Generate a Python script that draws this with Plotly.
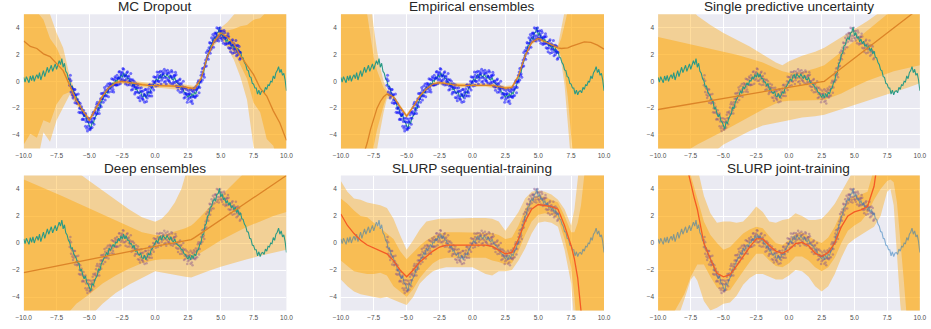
import numpy as np
import plotly.graph_objects as go

# ---------------- ground-truth curve (noisy) ----------------
true_x = np.round(np.arange(-100, 101) / 10, 1)
true_y = [
    0.3, -0.05, 0.35, 0.15, -0.1, 0.4, 0.05, 0.45, 0.0, 0.3,
    0.5, 0.2, 0.65, 0.1, 0.55, 0.8, 0.35, 0.7, 1.05, 0.65,
    0.95, 1.2, 0.75, 1.1, 1.3, 0.9, 1.15, 1.55, 1.25, 1.7,
    1.05, 1.35, 0.75, 0.6, 0.2, 0.05, -0.4, -0.35, -0.8, -0.95,
    -1.15, -1.45, -1.5, -2.05, -1.95, -2.4, -2.65, -2.45, -2.95, -3.05,
    -3.3, -3.55, -3.0, -3.15, -2.75, -2.6, -2.4, -1.9, -2.05, -1.55,
    -1.3, -1.15, -1.0, -0.7, -0.9, -0.4, -0.55, -0.25, -0.1, -0.3,
    0.1, 0.0, 0.35, 0.15, 0.5, 0.3, 0.65, 0.3, 0.55, 0.2,
    0.2, -0.05, -0.05, -0.35, -0.15, -0.6, -0.55, -0.8, -0.9, -0.75,
    -1.1, -1.15, -0.9, -1.25, -1.05, -0.8, -0.9, -0.5, -0.4, -0.15,
    0.0, 0.2, 0.0, 0.4, 0.5, 0.2, 0.55, 0.4, 0.3, 0.55,
    0.3, 0.2, 0.45, 0.15, 0.1, 0.3, -0.05, -0.1, -0.2, -0.3,
    -0.5, -0.5, -0.8, -0.85, -1.0, -1.2, -0.95, -1.25, -0.9, -1.15,
    -0.8, -0.95, -0.55, -0.5, -0.1, 0.05, 0.6, 0.65, 1.3, 1.45,
    2.0, 2.1, 2.65, 2.7, 3.1, 3.25, 3.1, 3.6, 3.65, 4.05,
    3.4, 3.65, 3.2, 3.35, 2.95, 3.15, 2.8, 3.0, 2.6, 2.75,
    2.45, 2.65, 2.25, 2.5, 2.05, 2.25, 1.8, 1.75, 1.4, 1.25,
    0.85, 0.8, 0.35, 0.3, -0.15, -0.2, -0.5, -0.5, -0.95, -0.65,
    -1.0, -0.75, -0.7, -0.85, -0.45, -0.6, -0.25, -0.3, 0.0, -0.05,
    0.4, 0.2, 0.65, 0.8, 1.1, 0.65, 0.9, 0.45, 0.6, 0.1,
    -0.7,
]

# ---------------- training samples ----------------
obs_x = np.round(np.arange(-65, 66) / 10, 1)
obs_x_c = np.round(np.arange(-645, 655, 10) / 100, 2)
obs_y_a = [
    0.2, -0.8, -0.55, -1.1, -0.6, -1.4, -1.35, -2.3, -1.65, -2.3,
    -2.8, -2.55, -3.35, -2.75, -3.35, -3.05, -3.5, -2.95, -2.3, -2.75,
    -1.95, -2.4, -1.7, -1.8, -0.9, -1.3, -0.85, -1.4, -0.35, -0.6,
    -0.8, -0.25, -0.75, 0.15, -0.25, 0.25, -0.25, 0.25, 0.73, 0.1,
    0.7, 0.05, 0.5, 0.15, 0.72, 0.0, 0.18, -0.65, 0.12, -0.4,
    -0.82, -0.5, -1.2, -0.5, -1.07, -0.75, -1.4, -1.05, -0.6, -1.25,
    -0.55, -1.1, -0.4, -0.5, 0.35, -0.1, 0.3, -0.3, 0.68, 0.35,
    0.08, 0.55, -0.05, 0.75, 0.23, 0.6, -0.03, 0.35, 0.7, -0.05,
    0.42, -0.35, 0.03, -0.4, 0.18, -0.55, -0.4, -1.25, -0.48, -1.0,
    -1.35, -0.95, -1.53, -0.7, -1.13, -0.65, -1.1, -0.55, 0.05, -0.45,
    0.45, 0.1, 1.0, 1.1, 2.15, 1.9, 2.5, 2.1, 3.25, 3.1,
    2.95, 3.55, 3.05, 3.95, 3.4, 3.75, 3.05, 3.35, 3.65, 2.85,
    3.3, 2.5, 2.9, 2.5, 3.1, 2.4, 2.65, 1.9, 2.7, 2.2,
    1.75,
]
obs_y_b = [
    -0.3, 0.05, -1.0, -0.85, -1.6, -1.0, -1.6, -1.55, -2.35, -1.9,
    -2.4, -2.85, -2.4, -3.5, -3.0, -3.55, -2.8, -3.45, -2.75, -2.35,
    -2.45, -1.55, -2.15, -1.55, -1.9, -0.9, -1.1, -0.65, -1.05, -0.2,
    -0.4, -0.55, 0.2, -0.6, 0.1, -0.25, 0.45, -0.25, 0.28, 0.5,
    0.2, 0.9, 0.05, 0.4, -0.28, 0.4, -0.07, 0.1, -0.58, 0.0,
    -0.42, -0.8, -0.25, -1.25, -0.72, -1.25, -0.7, -1.55, -1.05, -0.85,
    -1.05, -0.25, -0.85, -0.25, -0.65, 0.3, 0.05, 0.45, -0.02, 0.75,
    0.48, 0.25, 0.9, 0.0, 0.58, 0.1, 0.67, -0.15, 0.25, 0.35,
    -0.08, 0.5, -0.42, -0.15, -0.82, -0.15, -0.65, -0.5, -1.18, -0.6,
    -0.95, -1.25, -0.58, -1.45, -0.78, -1.15, -0.4, -1.05, -0.4, -0.05,
    -0.05, 0.95, 0.55, 1.35, 1.15, 2.3, 2.25, 2.85, 2.55, 3.5,
    3.35, 3.25, 4.0, 3.2, 3.75, 3.25, 3.75, 2.85, 3.2, 3.25,
    2.8, 3.35, 2.45, 2.75, 2.1, 2.8, 2.4, 2.65, 2.0, 2.6,
    2.15,
]
obs_y_c = [
    0.45, -0.45, -1.25, -0.6, -1.0, -1.65, -0.95, -2.0, -2.05, -2.85,
    -2.15, -2.5, -3.0, -3.7, -2.75, -3.6, -3.05, -2.5, -3.2, -2.25,
    -1.7, -2.05, -2.4, -1.3, -1.3, -1.55, -0.45, -1.1, -0.75, -1.15,
    -0.15, -0.2, -0.4, -0.8, 0.35, -0.3, 0.2, 0.7, -0.17, 0.6,
    0.95, 0.4, -0.2, 0.65, 0.32, -0.25, 0.58, -0.35, -0.28, -0.95,
    -0.17, -0.45, -0.85, -1.45, -0.47, -1.3, -0.95, -0.6, -1.5, -0.75,
    -0.3, -0.75, -1.1, 0.0, -0.05, -0.35, 0.7, 0.0, 0.28, -0.2,
    0.73, 0.6, 0.3, -0.2, 0.83, 0.05, 0.42, 0.8, -0.2, 0.45,
    0.67, 0.0, -0.67, 0.1, -0.22, -0.8, 0.0, -0.95, -0.88, -1.55,
    -0.7, -0.9, -1.18, -1.65, -0.53, -1.2, -0.65, -0.1, -0.85, 0.05,
    0.7, 0.45, 0.3, 1.6, 1.75, 1.65, 2.9, 2.4, 2.85, 2.55,
    3.6, 3.6, 3.4, 3.0, 4.0, 3.2, 3.5, 3.8, 2.75, 3.35,
    3.55, 2.85, 2.2, 3.0, 2.7, 2.15, 3.05, 2.2, 2.3, 1.65,
]

# ---------------- MC Dropout ----------------
mc_x = np.round(np.arange(-20, 21) / 2, 1)
mc_mean = [3.0, 2.6, 2.45, 2.05, 1.85, 1.3, 0.8, -0.3, -1.4, -2.2, -2.9, -2.0, -1.1, -0.45,
           -0.1, 0.0, -0.1, -0.2, -0.25, -0.3, -0.3, -0.3, -0.3, -0.35, -0.4, -0.5, -0.55,
           0.2, 1.9, 3.0, 3.6, 3.3, 2.8, 1.9, 1.2, 0.5, -0.5, -1.1, -2.2, -3.1, -4.4]
mc_dark_hi = [7, 6, 5.2, 4.6, 3.2, 2.5, 1.4, 0.0, -1.2, -2.1, -2.8, -1.9, -1.0, -0.35, 0.0,
              0.1, 0.0, -0.1, -0.15, -0.2, -0.2, -0.2, -0.2, -0.25, -0.3, -0.4, -0.45, 0.3,
              2.0, 3.15, 3.9, 3.8, 3.9, 4.1, 4.2, 4.6, 4.7, 5.2, 5.5, 6.0, 6.5]
mc_dark_lo = [-4.7, -3.9, -4.2, -2.9, -3.1, -1.7, -1.0, -0.8, -1.6, -2.3, -3.0, -2.1, -1.2,
              -0.55, -0.2, -0.1, -0.2, -0.3, -0.35, -0.4, -0.4, -0.4, -0.4, -0.45, -0.5, -0.6,
              -0.65, 0.1, 1.8, 2.85, 3.3, 2.8, 2.2, 1.2, 0.2, -1.6, -2.3, -4.3, -4.8, -6.5, -8]
mc_light_hi = [9, 8, 7, 6, 5.0, 3.6, 2.5, 0.4, -1.0, -2.0, -2.7, -1.8, -0.9, -0.25, 0.1, 0.2,
               0.1, 0.0, -0.05, -0.1, -0.1, -0.1, -0.1, -0.15, -0.2, -0.3, -0.35, 0.4, 2.1,
               3.3, 4.0, 4.4, 5.0, 5.6, 6.2, 6.8, 7.4, 8, 8.5, 9, 9.5]
mc_light_lo = [-7, -5.2, -6.2, -3.8, -4.5, -2.9, -2.0, -1.0, -1.75, -2.4, -3.1, -2.2, -1.3,
               -0.65, -0.3, -0.2, -0.3, -0.4, -0.45, -0.5, -0.5, -0.5, -0.5, -0.55, -0.6,
               -0.7, -0.75, 0.0, 1.7, 2.7, 3.2, 2.5, 1.6, 0.3, -1.4, -4.9, -6.0, -8, -9,
               -10, -11]

# ---------------- Empirical ensembles ----------------
ee_x = [-10, -9.5, -9, -8.5, -8, -7.75, -7.5, -7.25, -7, -6.75, -6.5, -6, -5.5, -5, -4.5,
        -4, -3.5, -3, -2.5, -2, -1.5, -1, -0.5, 0, 0.5, 1, 1.5, 2, 2.5, 3, 3.5, 4, 4.5, 5,
        5.5, 6, 6.5, 6.75, 7, 7.25, 7.5, 7.75, 8, 8.5, 9, 9.5, 10]
ee_mean = [-15, -11, -8, -6.2, -4.6, -3.6, -2.7, -2.0, -1.5, -1.15, -0.95, -1.15, -1.9,
           -2.6, -1.9, -1.1, -0.55, -0.2, -0.1, -0.2, -0.25, -0.3, -0.3, -0.28, -0.25,
           -0.25, -0.3, -0.4, -0.5, -0.45, 0.4, 1.9, 2.9, 3.2, 2.95, 2.7, 2.5, 2.45, 2.45,
           2.5, 2.6, 2.7, 2.8, 2.95, 2.9, 2.7, 2.4]
ee_dark_hi = [60, 40, 25, 12, 5.0, 3.3, 1.8, 0.8, 0.1, -0.5, -0.8, -1.07, -1.82, -2.52,
              -1.82, -1.02, -0.47, -0.12, -0.02, -0.12, -0.17, -0.22, -0.22, -0.2, -0.17,
              -0.17, -0.22, -0.32, -0.42, -0.37, 0.48, 1.98, 2.98, 3.28, 3.03, 2.78, 2.6,
              3.2, 4.2, 5.3, 8, 11, 15, 22, 30, 45, 60]
ee_dark_lo = [-60, -40, -25, -14, -8, -6.3, -4.8, -3.6, -2.7, -1.8, -1.1, -1.23, -1.98,
              -2.68, -1.98, -1.18, -0.63, -0.28, -0.18, -0.28, -0.33, -0.38, -0.38, -0.36,
              -0.33, -0.33, -0.38, -0.48, -0.58, -0.53, 0.32, 1.82, 2.82, 3.12, 2.87, 2.62,
              2.4, 1.8, 0.6, -1.2, -4.0, -6.5, -10, -18, -28, -42, -60]
ee_light_hi = [70, 48, 30, 16, 7.5, 6.0, 4.0, 2.3, 1.0, 0.0, -0.6, -0.99, -1.74, -2.44,
               -1.74, -0.94, -0.39, -0.04, 0.06, -0.04, -0.09, -0.14, -0.14, -0.12, -0.09,
               -0.09, -0.14, -0.24, -0.34, -0.29, 0.56, 2.06, 3.06, 3.36, 3.11, 2.86, 2.7,
               3.8, 5.2, 7.5, 10, 13, 18, 26, 35, 50, 70]
ee_light_lo = [-70, -48, -30, -17, -9.5, -7.5, -6.0, -4.9, -3.6, -2.3, -1.3, -1.31, -2.06,
               -2.76, -2.06, -1.26, -0.71, -0.36, -0.26, -0.36, -0.41, -0.46, -0.46, -0.44,
               -0.41, -0.41, -0.46, -0.56, -0.66, -0.61, 0.24, 1.74, 2.74, 3.04, 2.79, 2.54,
               2.3, 1.4, -0.3, -3.0, -6.0, -9, -13, -20, -30, -45, -65]

# ---------------- Single predictive uncertainty ----------------
spu_x = [-10, -9, -8, -7, -6, -5, -4, -3, -2, -1, -0.5, 0, 1, 2, 2.7, 4, 5, 6, 7, 8, 9, 10]
spu_mean = [-2.1, -1.93, -1.76, -1.6, -1.43, -1.26, -1.09, -0.92, -0.75, -0.58, -0.5, -0.42,
            -0.28, -0.12, 0.0, 0.98, 1.73, 2.48, 3.23, 3.98, 4.73, 5.48]
spu_dark_hi = [3.3, 3.08, 2.86, 2.64, 2.42, 2.2, 1.98, 1.7, 1.4, 0.95, 0.75, 0.65, 0.7, 0.95,
               1.2, 2.2, 3.0, 3.8, 4.6, 5.4, 6.2, 7.0]
spu_dark_lo = [-8.0, -6.5, -5.3, -4.7, -4.2, -3.7, -3.2, -2.65, -2.1, -1.65, -1.5, -1.45,
               -1.4, -1.4, -1.4, -0.9, -0.4, 0.05, 0.4, 0.75, 1.0, 1.2]
spu_light_hi = [8.0, 7.0, 6.0, 4.9, 4.2, 3.6, 3.1, 2.6, 2.0, 1.4, 1.2, 1.5, 1.9, 2.2, 2.5,
                3.3, 3.9, 4.5, 5.2, 6.0, 6.7, 7.5]
spu_light_lo = [-12, -10, -8.5, -7.0, -5.5, -4.7, -4.2, -3.7, -3.3, -3.05, -3.0, -2.9, -2.7,
                -2.6, -2.5, -2.08, -1.76, -1.45, -1.13, -0.81, -0.49, -0.15]

# ---------------- Deep ensembles ----------------
de_x = [-10, -9, -8, -7, -6, -5, -4, -3, -2, -1, 0, 0.5, 1, 1.5, 2, 2.3, 2.75, 3, 4, 5, 6, 7,
        8, 9, 10]
de_mean = [-2.2, -2.0, -1.8, -1.6, -1.4, -1.2, -1.0, -0.8, -0.6, -0.42, -0.25, -0.15, -0.06,
           0.03, 0.12, 0.17, 0.25, 0.4, 1.05, 1.7, 2.35, 3.0, 3.65, 4.3, 5.0]
de_dark_hi = [4.7, 4.3, 3.9, 3.45, 3.0, 2.55, 2.1, 1.65, 1.2, 0.8, 0.6, 0.6, 0.7, 0.85, 1.0,
              1.1, 1.3, 1.5, 2.5, 3.5, 4.5, 5.4, 6.2, 7.0, 7.8]
de_dark_lo = [-9.0, -8.0, -6.8, -5.6, -4.5, -3.8, -3.0, -2.4, -1.9, -1.5, -1.26, -1.2, -1.2,
              -1.2, -1.2, -1.2, -1.15, -1.0, -0.4, 0.2, 0.7, 1.2, 1.6, 2.0, 2.3]
de_light_hi = [12, 10, 8, 6.5, 5.3, 4.6, 3.9, 3.2, 2.5, 1.9, 1.58, 1.8, 2.3, 3.0, 4.0, 5.0,
               6.2, 6.8, 8, 9, 10, 11, 12, 13, 14]
de_light_lo = [-14, -12, -10, -8.5, -7, -5.5, -4.5, -3.7, -3.1, -2.6, -2.1, -2.2, -2.3, -2.4,
               -2.45, -2.5, -2.55, -2.5, -2.1, -1.75, -1.45, -1.2, -0.95, -0.7, -0.5]

# ---------------- SLURP sequential-training ----------------
sq_x = [-10, -9.5, -9, -8.5, -8, -7.5, -7, -6.5, -6, -5.5, -5, -4.5, -4, -3.5, -3, -2.5, -2,
        -1, 0, 1, 1.5, 2, 2.5, 3, 3.5, 4, 4.5, 5, 5.5, 6, 6.5, 7, 7.5, 7.75, 8, 8.25, 8.5, 9,
        9.5, 10]
sq_mean = [2.15, 1.3, 0.7, 0.2, -0.15, -0.35, -0.55, -0.8, -1.3, -2.0, -2.5, -2.0, -1.4, -1.0,
           -0.6, -0.3, -0.15, -0.15, -0.15, -0.15, -0.25, -0.5, -0.8, -0.7, 0.3, 1.6, 2.5,
           2.85, 2.8, 2.7, 2.5, 1.3, -0.2, -1.2, -2.6, -4.5, -6.5, -11, -16, -22]
sq_dark_lo = [-1.3, -1.7, -2.1, -2.2, -2.3, -2.3, -2.2, -2.4, -3.2, -3.6, -4.0, -3.4, -2.6,
              -2.0, -1.5, -1.2, -1.1, -1.1, -1.1, -1.1, -1.3, -1.4, -1.6, -1.5, -0.6, 0.6,
              1.6, 2.1, 2.2, 2.1, 1.8, 0.3, -1.8, -4.0, -7, -10, -13, -19, -25, -31]
sq_dark_hi = [3.3, 2.9, 2.4, 2.0, 1.9, 1.5, 1.1, 0.7, 0.3, -0.6, -1.2, -0.7, -0.2, 0.2, 0.5,
              0.7, 0.8, 0.8, 0.8, 0.8, 0.75, 0.6, 0.3, 0.4, 1.3, 2.5, 3.3, 3.5, 3.4, 3.2, 3.0,
              2.0, 0.8, 0.8, 1.5, 2.8, 4.5, 9, 14, 19]
sq_light_lo = [-2.7, -3.2, -3.6, -3.8, -3.9, -4.0, -4.1, -4.0, -4.2, -4.4, -4.6, -4.0, -3.0,
               -2.5, -2.1, -1.9, -1.8, -1.8, -1.8, -2.3, -2.4, -2.1, -2.1, -2.0, -1.3, -0.4,
               0.7, 1.5, 1.6, 1.5, 1.2, -0.5, -3.0, -5.5, -9, -12, -15, -21, -27, -33]
sq_light_hi = [4.6, 3.8, 3.3, 3.2, 3.0, 2.9, 2.8, 2.6, 1.8, 0.6, -0.5, 0.2, 1.0, 1.6, 1.7, 1.8,
               1.8, 1.85, 1.85, 1.85, 1.8, 1.6, 0.9, 1.6, 2.3, 3.3, 3.8, 3.9, 3.8, 3.6, 3.2,
               2.5, 1.3, 2.5, 5.5, 8, 10, 14, 18, 22]

# ---------------- SLURP joint-training ----------------
jt_x = [-10, -9.5, -9, -8.5, -8, -7.5, -7.25, -7, -6.5, -6, -5.5, -5, -4.5, -4, -3.5, -3,
        -2.5, -2, -1.5, -1, -0.5, 0, 0.5, 1, 1.5, 2, 2.5, 3, 3.5, 4, 4.5, 5, 5.5, 6, 6.5, 7,
        7.5, 7.75, 8, 8.25, 8.5, 8.75, 9, 9.5, 10]
jt_mean = [20, 16, 12, 9, 6.5, 4.3, 3.4, 2.5, 0.0, -1.2, -2.25, -2.5, -2.35, -1.7, -1.0, -0.3,
           0.3, 0.3, -0.2, -0.6, -0.77, -0.5, -0.05, 0.05, -0.2, -0.75, -1.0, -0.7, 0.0, 1.2,
           2.0, 2.3, 2.45, 2.7, 4.2, 7, 10, 11.5, 13, 14.5, 16, 18, 20, 24, 28]
jt_dark_hi = [30, 25, 20, 14, 9, 5.0, 4.1, 3.2, 1.6, 0.6, 0.0, -0.5, -0.3, 0.2, 0.7, 1.0, 1.2,
              1.1, 0.5, 0.0, -0.15, 0.2, 0.7, 0.8, 0.5, 0.2, 0.0, 0.4, 1.2, 2.3, 3.2, 3.5,
              3.6, 3.8, 5.5, 9, 13, 15, 17, 19, 21, 23, 25, 29, 33]
jt_dark_lo = [-7, -6, -5.5, -4.6, -3.8, -2.5, -2.0, -1.6, -1.6, -2.5, -3.3, -3.6, -3.5, -2.8,
              -2.1, -1.4, -0.8, -0.8, -1.3, -1.7, -1.8, -1.5, -1.0, -1.0, -1.3, -1.8, -2.1,
              -1.8, -1.1, 0.0, 0.9, 1.3, 1.6, 2.2, 3.2, 4.0, 4.6, 4.7, 4.5, 3.0, 0.5, -2.5,
              -5.5, -10, -15]
jt_light_hi = [35, 30, 25, 18, 12, 8, 6.8, 5.6, 3.5, 2.2, 1.5, 1.6, 1.6, 1.5, 1.6, 2.1, 2.7,
               2.3, 1.6, 1.5, 1.7, 1.8, 2.2, 2.0, 1.7, 1.7, 1.8, 2.3, 2.9, 3.8, 4.7, 5.5, 6,
               6.5, 8, 11, 15, 17, 19, 21, 23, 25, 27, 31, 35]
jt_light_lo = [-12, -9, -7, -5.5, -4.2, -2.7, -2.4, -2.8, -4.3, -5.0, -4.8, -4.5, -4.4, -3.9,
               -3.1, -2.6, -2.3, -2.3, -2.5, -2.7, -2.7, -2.4, -2.0, -2.1, -2.5, -3.2, -3.6,
               -3.2, -2.3, -1.1, -0.1, 0.3, 0.6, 0.9, 1.2, 2.0, 3.8, 4.0, 2.8, -0.5, -4.5,
               -7, -9, -13, -18]

# ---------------- tick labels ----------------
x_ticks = [-10, -7.5, -5, -2.5, 0, 2.5, 5, 7.5, 10]
x_tick_text = ["\u221210.0", "\u22127.5", "\u22125.0", "\u22122.5", "0.0", "2.5", "5.0", "7.5", "10.0"]
y_ticks = [-4, -2, 0, 2, 4]
y_tick_text = ["\u22124", "\u22122", "0", "2", "4"]

# ---------------- styling ----------------
W, H = 931, 329
BG = "#EAEAF2"
LIGHT = "rgba(255,165,0,0.38)"
DARK = "rgba(255,165,0,0.44)"
TEAL = "#2A9A85"
TRUE_BLUE = "rgba(40,120,185,0.55)"
MEAN_ORANGE = "#DC8428"
MEAN_RED = "#F45A25"
BLUE_PTS = "rgba(10,10,255,0.55)"
PURPLE_PTS = "rgba(135,85,140,0.45)"
FONT = "Liberation Sans, Arial, sans-serif"

col_px = [(16.0, 283.0), (338.3, 605.8), (660.7, 926.8)]
row_px = [(14.3, 148.4), (175.5, 310.5)]
title_px = [6.3, 168.3]

panels = [
    dict(title="MC Dropout", x=mc_x, mean=mc_mean, dlo=mc_dark_lo, dhi=mc_dark_hi,
         llo=mc_light_lo, lhi=mc_light_hi, mcol=MEAN_ORANGE, tcol=TEAL, pcol=BLUE_PTS,
         psize=3, pts_on_top=True),
    dict(title="Empirical ensembles", x=ee_x, mean=ee_mean, dlo=ee_dark_lo, dhi=ee_dark_hi,
         llo=ee_light_lo, lhi=ee_light_hi, mcol=MEAN_ORANGE, tcol=TEAL, pcol=BLUE_PTS,
         psize=3, pts_on_top=True),
    dict(title="Single predictive uncertainty", x=spu_x, mean=spu_mean, dlo=spu_dark_lo,
         dhi=spu_dark_hi, llo=spu_light_lo, lhi=spu_light_hi, mcol=MEAN_ORANGE, tcol=TEAL,
         pcol=PURPLE_PTS, psize=2.5, pts_on_top=False),
    dict(title="Deep ensembles", x=de_x, mean=de_mean, dlo=de_dark_lo, dhi=de_dark_hi,
         llo=de_light_lo, lhi=de_light_hi, mcol=MEAN_ORANGE, tcol=TEAL, pcol=PURPLE_PTS,
         psize=2.5, pts_on_top=False),
    dict(title="SLURP sequential-training", x=sq_x, mean=sq_mean, dlo=sq_dark_lo,
         dhi=sq_dark_hi, llo=sq_light_lo, lhi=sq_light_hi, mcol=MEAN_RED, tcol=TRUE_BLUE,
         pcol=PURPLE_PTS, psize=2.5, pts_on_top=False),
    dict(title="SLURP joint-training", x=jt_x, mean=jt_mean, dlo=jt_dark_lo, dhi=jt_dark_hi,
         llo=jt_light_lo, lhi=jt_light_hi, mcol=MEAN_RED, tcol=TRUE_BLUE, pcol=PURPLE_PTS,
         psize=2.5, pts_on_top=False),
]


def band(xs, lo, hi, color, xa, ya):
    xs = list(xs)
    return go.Scatter(x=xs + xs[::-1], y=list(hi) + list(lo)[::-1], mode="lines",
                      fill="toself", fillcolor=color, line=dict(width=0),
                      hoverinfo="skip", showlegend=False, xaxis=xa, yaxis=ya)


def points(xs, ys, color, size, xa, ya):
    return go.Scatter(x=xs, y=ys, mode="markers",
                      marker=dict(size=size, color=color, line=dict(width=0)),
                      showlegend=False, hoverinfo="skip", xaxis=xa, yaxis=ya)


fig = go.Figure()
annotations = []
layout_axes = {}

for k, p in enumerate(panels):
    r, c = divmod(k, 3)
    n = "" if k == 0 else str(k + 1)
    xa, ya = "x" + n, "y" + n
    x0, x1 = col_px[c]
    y0, y1 = row_px[r]

    layout_axes["xaxis" + n] = dict(
        domain=[x0 / W, x1 / W], anchor=ya, range=[-10, 10],
        tickvals=x_ticks, ticktext=x_tick_text, showgrid=True, gridcolor="white",
        gridwidth=1, zeroline=False, showline=False, ticks="",
        tickfont=dict(size=6.5, color="#4d4d4d", family=FONT), ticklabelstandoff=2,
        fixedrange=True)
    layout_axes["yaxis" + n] = dict(
        domain=[1 - y1 / H, 1 - y0 / H], anchor=xa, range=[-5, 5],
        tickvals=y_ticks, ticktext=y_tick_text, showgrid=True, gridcolor="white",
        gridwidth=1, zeroline=False, showline=False, ticks="",
        tickfont=dict(size=6.5, color="#4d4d4d", family=FONT), ticklabelstandoff=3,
        fixedrange=True)

    fig.add_trace(band(p["x"], p["llo"], p["lhi"], LIGHT, xa, ya))
    fig.add_trace(band(p["x"], p["dlo"], p["dhi"], DARK, xa, ya))

    pts = [points(obs_x, obs_y_a, p["pcol"], p["psize"], xa, ya),
           points(obs_x, obs_y_b, p["pcol"], p["psize"], xa, ya),
           points(obs_x_c, obs_y_c, p["pcol"], p["psize"], xa, ya)]
    true_line = go.Scatter(x=true_x, y=true_y, mode="lines",
                           line=dict(color=p["tcol"], width=1.1),
                           showlegend=False, hoverinfo="skip", xaxis=xa, yaxis=ya)
    if p["pts_on_top"]:
        fig.add_trace(true_line)
        for t in pts:
            fig.add_trace(t)
    else:
        for t in pts:
            fig.add_trace(t)
        fig.add_trace(true_line)

    fig.add_trace(go.Scatter(x=p["x"], y=p["mean"], mode="lines",
                             line=dict(color=p["mcol"], width=1.3),
                             showlegend=False, hoverinfo="skip", xaxis=xa, yaxis=ya))

    annotations.append(dict(
        text=p["title"], x=(x0 + x1) / 2 / W, y=1 - title_px[r] / H, xref="paper",
        yref="paper", xanchor="center", yanchor="middle", showarrow=False,
        font=dict(size=13.6, color="#262626", family=FONT)))

fig.update_layout(
    width=W, height=H, margin=dict(l=0, r=0, t=0, b=0),
    paper_bgcolor="white", plot_bgcolor=BG, annotations=annotations,
    **layout_axes)

fig.write_html("out.html")
